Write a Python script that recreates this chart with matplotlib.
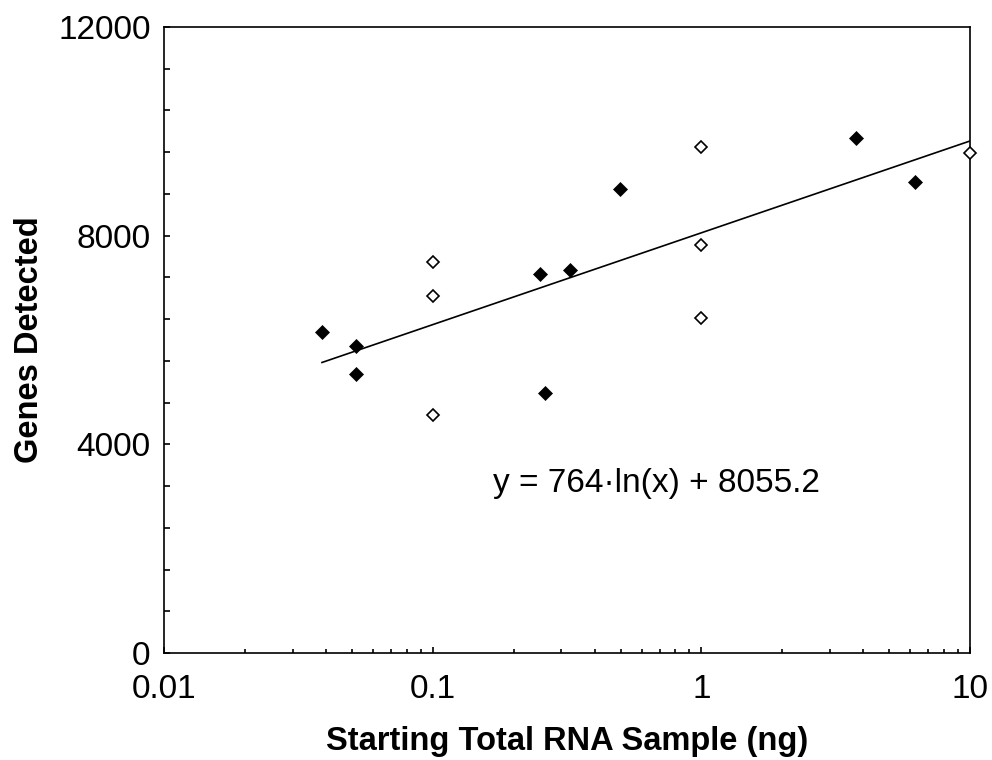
import numpy as np
import matplotlib
matplotlib.use("Agg")
import matplotlib.pyplot as plt
from matplotlib.ticker import MultipleLocator, LogLocator, FixedLocator, FixedFormatter, NullFormatter

# Data
filled_x = [0.0386, 0.0516, 0.0516, 0.250, 0.262, 0.324, 0.497, 3.76, 6.26]
filled_y = [6160, 5885, 5348, 7259, 4990, 7341, 8894, 9872, 9022]
open_x = [0.1, 0.1, 0.1, 1.0, 1.0, 1.0, 10.0]
open_y = [7500, 6843, 4556, 9705, 7827, 6421, 9578]

fit_a = 764.0
fit_b = 8055.2

x_ticks = [0.01, 0.1, 1, 10]
x_tick_labels = ["0.01", "0.1", "1", "10"]
y_ticks = [0, 4000, 8000, 12000]
y_tick_labels = ["0", "4000", "8000", "12000"]

plt.rcParams['font.family'] = ['Liberation Sans', 'DejaVu Sans']

fig = plt.figure(figsize=(9.92, 7.6), dpi=100)
ax = fig.add_axes([0.1658, 0.1408, 0.9778 - 0.1658, 0.9645 - 0.1408])

ax.set_xscale('log')
ax.set_xlim(0.01, 10)
ax.set_ylim(0, 12000)

all_x = filled_x + open_x
xs = np.logspace(np.log10(min(all_x)), np.log10(max(all_x)), 200)
ax.plot(xs, fit_a * np.log(xs) + fit_b, color='black', lw=1.2, zorder=2)

ax.plot(filled_x, filled_y, linestyle='none', marker='D', markersize=7.2,
        markerfacecolor='black', markeredgecolor='black', markeredgewidth=0.5, zorder=3)
ax.plot(open_x, open_y, linestyle='none', marker='D', markersize=6.2,
        markerfacecolor='white', markeredgecolor='black', markeredgewidth=1.2, zorder=3,
        clip_on=False)

ax.xaxis.set_major_locator(FixedLocator(x_ticks))
ax.xaxis.set_major_formatter(FixedFormatter(x_tick_labels))
ax.xaxis.set_minor_locator(LogLocator(base=10, subs=np.arange(2, 10)))
ax.xaxis.set_minor_formatter(NullFormatter())
ax.yaxis.set_major_locator(FixedLocator(y_ticks))
ax.yaxis.set_major_formatter(FixedFormatter(y_tick_labels))
ax.yaxis.set_minor_locator(MultipleLocator(800))

ax.tick_params(axis='both', which='both', direction='in', top=False, right=False,
               width=1.2, colors='black', labelsize=24)
ax.tick_params(axis='x', which='major', length=4.5, pad=15)
ax.tick_params(axis='x', which='minor', length=3)
ax.tick_params(axis='y', which='both', length=4.5, pad=10)

for sp in ax.spines.values():
    sp.set_linewidth(1.2)

ax.set_xlabel("Starting Total RNA Sample (ng)", fontsize=23.5, fontweight='bold')
ax.set_ylabel("Genes Detected", fontsize=23.5, fontweight='bold')
ax.xaxis.set_label_coords(0.5, -0.1406)
ax.xaxis.label.set_verticalalignment('center')
ax.yaxis.set_label_coords(-0.167, 0.5)
ax.yaxis.label.set_verticalalignment('center')

ax.text(0.167, 3250, "y = 764\u00b7ln(x) + 8055.2", fontsize=24, ha='left', va='center')

fig.savefig("out.png", dpi=100)
